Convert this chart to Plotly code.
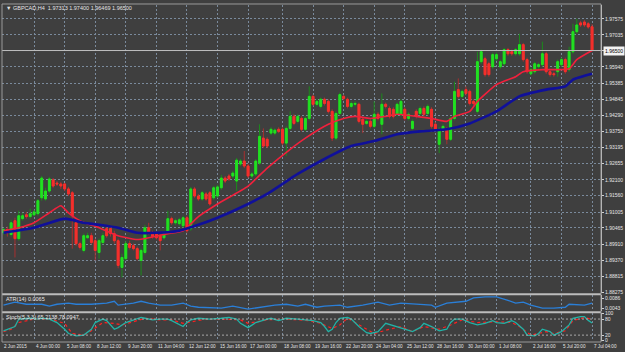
import plotly.graph_objects as go

# ---------------- data ----------------
open_ = [1.9030,1.9041,1.9024,1.9071,1.9010,1.9078,1.9091,1.9085,1.9091,1.9095,
         1.9149,1.9145,1.9172,1.9210,1.9199,1.9196,1.9196,1.9179,1.9166,1.9064,
         1.8993,1.8970,1.9013,1.9020,1.9003,1.8963,1.8997,1.9044,1.9044,1.9027,
         1.9003,1.8912,1.8942,1.8993,1.8986,1.8976,1.8936,1.8963,1.9047,1.9030,
         1.9027,1.9020,1.9013,1.9030,1.9078,1.9064,1.9061,1.9054,1.9081,1.9044,
         1.9179,1.9155,1.9145,1.9162,1.9166,1.9149,1.9155,1.9183,1.9216,1.9223,
         1.9223,1.9206,1.9264,1.9274,1.9257,1.9223,1.9230,1.9267,1.9352,1.9348,
         1.9369,1.9369,1.9382,1.9382,1.9335,1.9385,1.9426,1.9409,1.9419,1.9382,
         1.9419,1.9494,1.9467,1.9460,1.9484,1.9477,1.9443,1.9352,1.9436,1.9494,
         1.9484,1.9460,1.9467,1.9467,1.9416,1.9402,1.9409,1.9392,1.9433,1.9399,
         1.9467,1.9453,1.9450,1.9433,1.9433,1.9450,1.9419,1.9385,1.9443,1.9436,
         1.9453,1.9436,1.9450,1.9399,1.9331,1.9382,1.9382,1.9348,1.9419,1.9517,
         1.9494,1.9517,1.9511,1.9477,1.9443,1.9612,1.9622,1.9605,1.9595,1.9622,
         1.9595,1.9605,1.9653,1.9646,1.9639,1.9639,1.9670,1.9619,1.9571,1.9578,
         1.9595,1.9602,1.9639,1.9578,1.9571,1.9578,1.9602,1.9619,1.9585,1.9646,
         1.9714,1.9744,1.9747,1.9741,1.9731]
high = [1.9047,1.9051,1.9074,1.9081,1.9105,1.9098,1.9101,1.9112,1.9108,1.9145,
        1.9223,1.9183,1.9220,1.9216,1.9206,1.9203,1.9199,1.9186,1.9172,1.9071,
        1.9000,1.9027,1.9030,1.9030,1.9010,1.9010,1.9030,1.9051,1.9051,1.9037,
        1.9010,1.8959,1.9003,1.9003,1.8993,1.8983,1.8976,1.9057,1.9064,1.9037,
        1.9034,1.9027,1.9037,1.9105,1.9085,1.9078,1.9081,1.9088,1.9088,1.9186,
        1.9186,1.9162,1.9172,1.9169,1.9172,1.9189,1.9193,1.9227,1.9223,1.9230,
        1.9240,1.9284,1.9281,1.9308,1.9264,1.9237,1.9281,1.9399,1.9385,1.9355,
        1.9389,1.9385,1.9389,1.9389,1.9392,1.9443,1.9433,1.9433,1.9426,1.9426,
        1.9528,1.9500,1.9484,1.9490,1.9490,1.9484,1.9450,1.9443,1.9507,1.9500,
        1.9490,1.9477,1.9477,1.9473,1.9423,1.9416,1.9416,1.9477,1.9440,1.9504,
        1.9473,1.9460,1.9457,1.9473,1.9484,1.9457,1.9440,1.9416,1.9450,1.9460,
        1.9460,1.9467,1.9457,1.9406,1.9389,1.9399,1.9389,1.9426,1.9544,1.9555,
        1.9517,1.9528,1.9517,1.9484,1.9646,1.9653,1.9629,1.9612,1.9643,1.9643,
        1.9619,1.9659,1.9659,1.9653,1.9659,1.9707,1.9676,1.9626,1.9592,1.9612,
        1.9609,1.9680,1.9646,1.9585,1.9578,1.9619,1.9626,1.9626,1.9663,1.9741,
        1.9758,1.9751,1.9754,1.9747,1.9740]
low = [1.9024,1.9017,1.9017,1.8946,1.9003,1.9071,1.9078,1.9078,1.9088,1.9088,
       1.9139,1.9139,1.9166,1.9183,1.9189,1.9179,1.9172,1.9155,1.8976,1.8986,
       1.8973,1.8963,1.9010,1.8990,1.8936,1.8942,1.8990,1.9013,1.9017,1.8993,
       1.8909,1.8878,1.8936,1.8973,1.8970,1.8936,1.8885,1.8956,1.9024,1.9010,
       1.9007,1.8970,1.9007,1.9024,1.9057,1.9057,1.9054,1.9047,1.9030,1.9037,
       1.9149,1.9139,1.9139,1.9139,1.9122,1.9142,1.9149,1.9176,1.9199,1.9206,
       1.9216,1.9172,1.9257,1.9250,1.9216,1.9216,1.9223,1.9260,1.9318,1.9318,
       1.9362,1.9362,1.9369,1.9328,1.9291,1.9379,1.9396,1.9402,1.9375,1.9375,
       1.9412,1.9460,1.9460,1.9453,1.9463,1.9436,1.9342,1.9345,1.9429,1.9480,
       1.9453,1.9453,1.9460,1.9402,1.9369,1.9396,1.9385,1.9385,1.9412,1.9365,
       1.9453,1.9419,1.9419,1.9426,1.9426,1.9412,1.9412,1.9379,1.9419,1.9429,
       1.9426,1.9429,1.9385,1.9375,1.9301,1.9375,1.9331,1.9342,1.9412,1.9487,
       1.9487,1.9497,1.9463,1.9463,1.9436,1.9605,1.9561,1.9561,1.9588,1.9615,
       1.9588,1.9599,1.9632,1.9632,1.9632,1.9632,1.9612,1.9571,1.9565,1.9571,
       1.9588,1.9595,1.9571,1.9561,1.9561,1.9561,1.9595,1.9571,1.9578,1.9639,
       1.9707,1.9730,1.9730,1.9724,1.9647]
close = [1.9041,1.9030,1.9064,1.9010,1.9088,1.9088,1.9085,1.9095,1.9101,1.9139,
         1.9216,1.9172,1.9213,1.9189,1.9196,1.9189,1.9179,1.9162,1.9088,1.8993,
         1.8980,1.9020,1.9020,1.8997,1.8970,1.9003,1.9020,1.9020,1.9027,1.9003,
         1.8919,1.8946,1.8993,1.8980,1.8976,1.8942,1.8970,1.9047,1.9030,1.9017,
         1.9013,1.9003,1.9030,1.9078,1.9064,1.9071,1.9074,1.9081,1.9037,1.9179,
         1.9155,1.9145,1.9166,1.9145,1.9128,1.9183,1.9186,1.9216,1.9206,1.9213,
         1.9233,1.9277,1.9274,1.9257,1.9223,1.9230,1.9274,1.9358,1.9325,1.9325,
         1.9382,1.9379,1.9375,1.9335,1.9385,1.9426,1.9402,1.9426,1.9382,1.9419,
         1.9494,1.9467,1.9477,1.9484,1.9470,1.9443,1.9352,1.9436,1.9500,1.9487,
         1.9460,1.9470,1.9470,1.9409,1.9399,1.9409,1.9392,1.9433,1.9419,1.9467,
         1.9460,1.9426,1.9426,1.9467,1.9477,1.9419,1.9433,1.9409,1.9426,1.9453,
         1.9433,1.9460,1.9392,1.9382,1.9382,1.9392,1.9348,1.9419,1.9511,1.9494,
         1.9511,1.9504,1.9470,1.9470,1.9612,1.9646,1.9568,1.9568,1.9636,1.9636,
         1.9612,1.9653,1.9639,1.9639,1.9653,1.9670,1.9619,1.9578,1.9585,1.9605,
         1.9602,1.9639,1.9578,1.9568,1.9568,1.9612,1.9619,1.9578,1.9646,1.9714,
         1.9737,1.9737,1.9737,1.9730,1.9650]

ma_fast_idx = [0,4,8,12,15,17,20,25,30,35,38,43,47,51,56,64,69,75,79,85,
               89,92,96,100,103,108,112,116,118,122,124,129,134,136,141,145,148,150,154]
ma_fast = [1.9037,1.9047,1.9064,1.9098,1.9122,1.9098,1.9071,1.9047,1.9020,1.9007,
           1.9013,1.9027,1.9037,1.9085,1.9128,1.9189,1.9250,1.9314,1.9352,1.9399,
           1.9419,1.9426,1.9419,1.9426,1.9433,1.9426,1.9419,1.9409,1.9426,1.9443,
           1.9477,1.9534,1.9561,1.9578,1.9585,1.9585,1.9588,1.9619,1.9650]
ma_slow_idx = [0,8,16,21,25,30,35,40,46,51,56,64,69,77,84,91,97,103,109,116,
               122,129,135,142,147,149,154]
ma_slow = [1.9030,1.9047,1.9078,1.9064,1.9057,1.9047,1.9030,1.9030,1.9037,1.9057,
           1.9081,1.9128,1.9162,1.9230,1.9281,1.9325,1.9342,1.9365,1.9375,1.9382,
           1.9402,1.9443,1.9494,1.9517,1.9528,1.9551,1.9571]

atr_idx = [0,3,6,10,12,14,17,19,23,27,29,30,34,36,38,41,44,47,49,51,
           57,60,64,67,71,74,77,79,82,84,88,90,94,98,101,104,109,112,113,116,
           121,123,126,129,132,134,136,138,141,144,147,148,152,154]
atr_val = [0.0056,0.0069,0.0060,0.0060,0.0052,0.0060,0.0065,0.0060,0.0060,0.0065,
           0.0073,0.0056,0.0065,0.0073,0.0065,0.0056,0.0056,0.0065,0.0052,0.0047,
           0.0043,0.0052,0.0039,0.0047,0.0056,0.0060,0.0052,0.0060,0.0047,0.0052,
           0.0056,0.0047,0.0056,0.0069,0.0056,0.0065,0.0060,0.0056,0.0047,0.0065,
           0.0073,0.0088,0.0092,0.0092,0.0077,0.0065,0.0069,0.0056,0.0043,0.0043,
           0.0047,0.0060,0.0056,0.0065]

stoch_idx = [0,1,3,4,7,9,10,12,14,16,17,19,21,23,24,26,27,29,30,32,
             34,36,37,39,41,43,44,47,48,49,51,54,57,59,61,62,64,66,69,70,
             72,74,77,79,81,83,84,85,86,87,88,90,91,93,95,96,98,100,103,105,
             107,109,110,112,114,116,117,118,120,122,124,126,128,129,131,133,134,136,137,139,
             140,141,143,144,146,148,149,151,152,153,154]
stoch_main = [36,42,52,80,83,80,83,80,67,42,26,17,20,42,67,80,74,42,48,67,
              77,86,83,77,80,80,74,52,67,77,83,80,83,86,80,64,48,67,80,83,
              74,83,80,77,74,67,52,33,42,67,83,86,80,52,29,26,33,64,52,42,
              33,48,64,52,36,42,67,80,80,67,58,64,74,67,64,74,67,42,20,17,
              26,42,33,20,33,58,83,89,89,75,65]
sig_idx = [0,2,4,8,12,16,18,21,23,26,29,31,34,37,41,44,47,49,53,57,
           62,64,69,74,80,83,86,88,90,92,95,97,101,104,107,110,114,117,120,124,
           129,133,135,138,142,144,147,149,152,154]
stoch_sig = [33,42,67,80,80,64,26,20,36,67,64,58,70,83,77,77,64,70,80,80,
             77,64,77,80,74,64,45,58,83,67,42,26,42,52,33,52,42,58,77,67,
             70,67,52,20,33,26,36,74,86,78]

price_ticks = [1.97575,1.97035,1.96495,1.95940,1.95385,1.94845,1.94290,1.93750,1.93195,
               1.92655,1.92100,1.91560,1.91005,1.90465,1.89910,1.89370,1.88815,1.88275]
price_tick_text = ["1.97575","1.97035","","1.95940","1.95385","1.94845","1.94290","1.93750",
                   "1.93195","1.92655","1.92100","1.91560","1.91005","1.90465","1.89910",
                   "1.89370","1.88815","1.88275"]
time_tick_idx = [0,8,16,24,32,40,48,56,64,73,81,89,97,105,113,121,129,138,146,154]
time_tick_text = ["2 Jun 2015","4 Jun 00:00","5 Jun 08:00","8 Jun 12:00","9 Jun 20:00",
                  "11 Jun 04:00","12 Jun 12:00","15 Jun 16:00","17 Jun 00:00","18 Jun 08:00",
                  "19 Jun 16:00","22 Jun 20:00","24 Jun 04:00","25 Jun 12:00","28 Jun 16:00",
                  "30 Jun 00:00","1 Jul 08:00","2 Jul 16:00","5 Jul 20:00","7 Jul 04:00"]
current_price = 1.96500
header_text = "▼ GBPCAD,H4  1.97313 1.97400 1.96469 1.96500"
atr_text = "ATR(14) 0.0065"
stoch_text = "Stoch(5,3,3) 65.2138 78.0947"

# ---------------- styling ----------------
BG = "#3f3f3f"
GRID = "#7a8a9c"
TXT = "#e6e6e6"
FONT = "Liberation Sans"
UP, DN = "#22e022", "#f5302c"
UP_W, DN_W = "#1c8a1c", "#a83030"

x = list(range(len(close)))
body_hi = [max(o, c) for o, c in zip(open_, close)]
body_lo = [min(o, c) for o, c in zip(open_, close)]

fig = go.Figure()
fig.add_trace(go.Candlestick(
    x=x, open=open_, high=high, low=low, close=close,
    increasing=dict(line=dict(color=UP_W, width=1), fillcolor=UP_W),
    decreasing=dict(line=dict(color=DN_W, width=1), fillcolor=DN_W),
    whiskerwidth=0, hoverinfo="skip", showlegend=False, xaxis="x", yaxis="y"))
fig.add_trace(go.Candlestick(
    x=x, open=open_, high=body_hi, low=body_lo, close=close,
    increasing=dict(line=dict(color=UP, width=1), fillcolor=UP),
    decreasing=dict(line=dict(color=DN, width=1), fillcolor=DN),
    whiskerwidth=0, hoverinfo="skip", showlegend=False, xaxis="x", yaxis="y"))
fig.add_trace(go.Scatter(x=ma_fast_idx, y=ma_fast, mode="lines",
                         line=dict(color="#f0203c", width=1.6, shape="spline", smoothing=0.5),
                         showlegend=False, xaxis="x", yaxis="y"))
fig.add_trace(go.Scatter(x=ma_slow_idx, y=ma_slow, mode="lines",
                         line=dict(color="#10109a", width=2.6, shape="spline", smoothing=0.5),
                         showlegend=False, xaxis="x", yaxis="y"))
fig.add_trace(go.Scatter(x=atr_idx, y=atr_val, mode="lines",
                         line=dict(color="#2a7fd8", width=1.3),
                         showlegend=False, xaxis="x2", yaxis="y2"))
fig.add_trace(go.Scatter(x=sig_idx, y=stoch_sig, mode="lines",
                         line=dict(color="#ff2020", width=1.2, dash="dot"),
                         showlegend=False, xaxis="x3", yaxis="y3"))
fig.add_trace(go.Scatter(x=stoch_idx, y=stoch_main, mode="lines",
                         line=dict(color="#22b2a6", width=1.3),
                         showlegend=False, xaxis="x3", yaxis="y3"))

XMIN, XMAX = -0.39, 156.34
xcommon = dict(range=[XMIN, XMAX], tickvals=time_tick_idx[1:], showticklabels=False,
               showgrid=True, gridcolor=GRID, griddash="2px,2px", gridwidth=1,
               zeroline=False, showline=False, ticks="", fixedrange=True)
ycommon = dict(side="right", ticks="outside", ticklen=2, tickcolor="#d0d0d0",
               tickfont=dict(size=5, color=TXT, family=FONT), showline=True,
               linecolor="#d0d0d0", linewidth=1, zeroline=False, fixedrange=True)

fig.update_layout(
    width=625, height=352,
    margin=dict(l=2, r=21, t=3, b=11),
    paper_bgcolor=BG, plot_bgcolor=BG,
    font=dict(family=FONT, size=5, color=TXT),
    hovermode=False, showlegend=False,
    xaxis=dict(**xcommon, anchor="y", rangeslider=dict(visible=False)),
    xaxis2=dict(**xcommon, anchor="y2", matches="x"),
    xaxis3=dict(**xcommon, anchor="y3", matches="x"),
    yaxis=dict(**ycommon, domain=[0.14201, 1.0], range=[1.88241, 1.98049],
               tickvals=price_ticks, ticktext=price_tick_text,
               showgrid=True, gridcolor=GRID, griddash="2px,2px", gridwidth=1),
    yaxis2=dict(**ycommon, domain=[0.08876, 0.13609], range=[0.0030, 0.0099],
                tickvals=[0.0086, 0.0043], ticktext=["0.0086", "0.0043"], showgrid=False),
    yaxis3=dict(**ycommon, domain=[0.0, 0.08284], range=[-2, 102],
                tickvals=[0, 20, 80, 100], ticktext=["0", "20", "80", "100"], showgrid=False),
)

shapes = []
# stochastic levels
for lv in (20, 80):
    shapes.append(dict(type="line", xref="paper", x0=0, x1=1, yref="y3", y0=lv, y1=lv,
                       line=dict(color="#a8a8a8", width=1, dash="2px,2px")))
# current price line
shapes.append(dict(type="line", xref="paper", x0=0, x1=1, yref="y", y0=current_price,
                   y1=current_price, line=dict(color="#bdbdbd", width=1)))
# panel separators and frame
for py in (0.1390, 0.0858):
    shapes.append(dict(type="line", xref="paper", x0=0, x1=1, yref="paper", y0=py, y1=py,
                       line=dict(color="#bcbcbc", width=2)))
shapes.append(dict(type="rect", xref="paper", x0=0, x1=1, yref="paper", y0=-0.003, y1=1.003,
                   line=dict(color="#9a9a9a", width=1)))
fig.update_layout(shapes=shapes)

ann = [
    dict(text=header_text, xref="paper", yref="paper", x=0.003, y=0.992,
         xanchor="left", yanchor="middle", showarrow=False, font=dict(size=5.5, color=TXT)),
    dict(text=atr_text, xref="paper", yref="paper", x=0.003, y=0.1250,
         xanchor="left", yanchor="middle", showarrow=False, font=dict(size=5.5, color=TXT)),
    dict(text=stoch_text, xref="paper", yref="paper", x=0.003, y=0.0725,
         xanchor="left", yanchor="middle", showarrow=False, font=dict(size=5.5, color=TXT)),
    dict(text=f"{current_price:.5f}", xref="paper", yref="y", x=1.004, y=current_price,
         xanchor="left", yanchor="middle", showarrow=False, bgcolor="#f2f2f2",
         borderpad=1, font=dict(size=5, color="#000000")),
]
for i, (xi, t) in enumerate(zip(time_tick_idx, time_tick_text)):
    ann.append(dict(text=t, xref="x3", yref="paper", x=(XMIN if i == 0 else xi), y=-0.016,
                    xanchor="left", yanchor="middle", showarrow=False,
                    font=dict(size=4.6, color=TXT)))
fig.update_layout(annotations=ann)

fig.write_html("out.html")
